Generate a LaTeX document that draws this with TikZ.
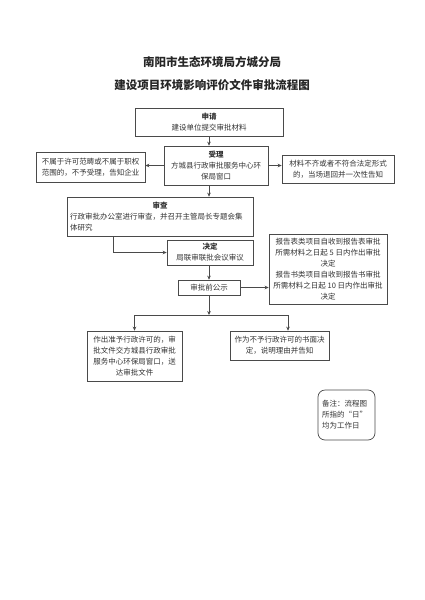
\documentclass[tikz,border=0pt]{standalone}
\usepackage{fontspec}
\setmainfont{Noto Sans CJK SC}
\usetikzlibrary{arrows.meta}
\definecolor{linegray}{HTML}{4A4A4A}
\definecolor{textgray}{HTML}{333333}
\tikzset{
  box/.style={draw=linegray, line width=0.7pt, text=textgray, align=center,
    inner sep=1pt, font=\fontsize{7.5}{11}\selectfont},
  conn/.style={draw=linegray, line width=0.7pt},
  arr/.style={conn, -{Stealth[length=4pt,width=3.6pt]}},
  titletext/.style={text=black!85, font=\fontsize{11.5}{13}\selectfont\bfseries}
}
\begin{document}
\begin{tikzpicture}[x=1pt,y=-1pt]
\useasboundingbox[fill=white] (0,0) rectangle (424,600);

\node[titletext] (t1) at (212,62) {南阳市生态环境局方城分局};
\node[titletext] (t2) at (212,85) {建设项目环境影响评价文件审批流程图};

\node[box, minimum width=148pt, minimum height=28pt] (shen) at (209,122)
  {{\bfseries 申请}\\建设单位提交审批材料};
\node[box, minimum width=104pt, minimum height=39pt] (shou) at (216,165.5)
  {{\bfseries 受理}\\方城县行政审批服务中心环\\保局窗口};
\node[box, minimum width=109pt, minimum height=30pt] (no) at (90.5,167)
  {不属于许可范畴或不属于职权\\范围的，不予受理，告知企业};
\node[box, minimum width=112pt, minimum height=28pt] (bad) at (338,169)
  {材料不齐或者不符合法定形式\\的，当场退回并一次性告知};
\node[box, minimum width=186pt, minimum height=39pt, text width=180pt, align=left] (cha) at (160,216.5)
  {\hfil{\bfseries 审查}\hfil\\行政审批办公室进行审查，并召开主管局长专题会集\\体研究};
\node[box, minimum width=86pt, minimum height=25pt] (jue) at (210,252.5)
  {{\bfseries 决定}\\局联审联批会议审议};
\node[box, minimum width=62pt, minimum height=15pt] (gong) at (209,287.5)
  {审批前公示};
\node[box, minimum width=118pt, minimum height=70pt] (rep) at (328,269)
  {报告表类项目自收到报告表审批\\所需材料之日起 5 日内作出审批\\决定\\报告书类项目自收到报告书审批\\所需材料之日起 10 日内作出审批\\决定};
\node[box, minimum width=95pt, minimum height=50pt] (yes) at (134.5,356)
  {作出准予行政许可的，审\\批文件交方城县行政审批\\服务中心环保局窗口，送\\达审批文件};
\node[box, minimum width=99pt, minimum height=29pt] (deny) at (279.5,345.5)
  {作为不予行政许可的书面决\\定，说明理由并告知};
\node[box, rounded corners=7pt, minimum width=57pt, minimum height=50pt, text width=49pt, align=left] (note) at (346.5,415)
  {备注：流程图\\所指的“日”\\均为工作日};

\draw[arr] (shen.south) -- (shen.south |- shou.north);
\draw[arr] (shou.south -| shen.south) -- (shen.south |- cha.north);
\draw[arr] (shou.west) -- (shou.west -| no.east);
\draw[arr] (shou.east) -- (shou.east -| bad.west);
\draw[arr] ([xshift=-47pt]cha.south) |- (jue.west);
\draw[arr] (jue.south -| gong.south) -- (gong.north);
\draw[arr] (gong.east) -- (gong.east -| rep.west);

\coordinate (j) at (209,315);
\coordinate (jl) at (134.5,315);
\coordinate (jr) at (288,315);
\draw[arr] (gong.south) -- (j);
\draw[conn] (jl) -- (jr);
\draw[arr] (jl) -- (jl |- yes.north);
\draw[arr] (jr) -- (jr |- deny.north);
\end{tikzpicture}
\end{document}
